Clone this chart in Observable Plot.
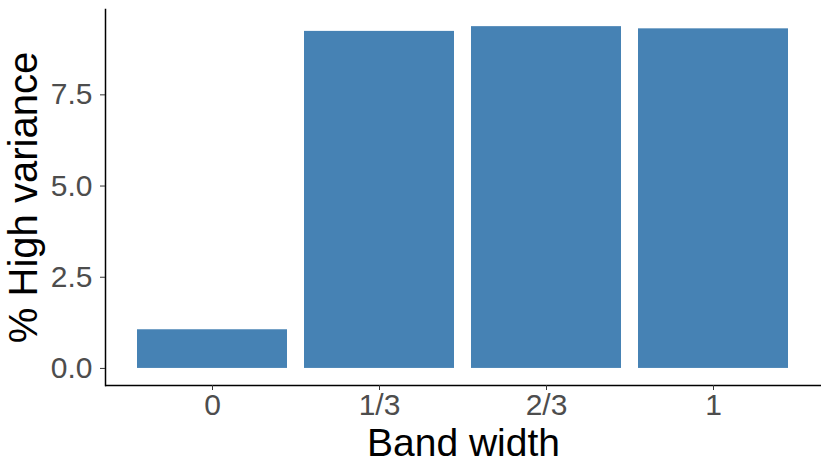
<!DOCTYPE html>
<html>
<head>
<meta charset="utf-8">
<script src="https://cdn.jsdelivr.net/npm/d3@7"></script>
<script src="https://cdn.jsdelivr.net/npm/@observablehq/plot@0.6"></script>
<style>
  html, body { margin: 0; padding: 0; background: #fff; }
  #chart svg { display: block; }
</style>
</head>
<body>
<div id="chart"></div>
<script>
const categories = ["0", "1/3", "2/3", "1"];
const values = [1.06, 9.24, 9.37, 9.31];
const yTicks = [0, 2.5, 5, 7.5];
const xTitle = "Band width";
const yTitle = "% High variance";

const data = categories.map((c, i) => ({ band: c, pct: values[i] }));
const yMin = -0.468, yMax = 9.84;

const chart = Plot.plot({
  width: 830,
  height: 475,
  marginLeft: 105,
  marginRight: 9,
  marginTop: 9,
  marginBottom: 90,
  style: { fontFamily: "'Liberation Sans', Arial, sans-serif", background: "#fff" },
  x: { domain: categories, paddingInner: 0.1, paddingOuter: 0.19, label: null },
  y: { domain: [yMin, yMax], label: null },
  marks: [
    Plot.barY(data, { x: "band", y1: 0, y2: "pct", fill: "#4682B4" }),
    Plot.ruleY([yMin], { stroke: "#000", strokeWidth: 1.5 }),
    Plot.frame({ anchor: "left", stroke: "#000", strokeWidth: 1.5 }),
    Plot.axisY({
      ticks: yTicks, tickFormat: d3.format(".1f"), tickSize: 5, tickPadding: 8,
      fontSize: 30, color: "#4D4D4D", stroke: "#333", label: null
    }),
    Plot.axisX({
      tickSize: 5, tickPadding: 3, fontSize: 30, color: "#4D4D4D", stroke: "#333", label: null
    }),
    Plot.text([xTitle], { frameAnchor: "bottom", dy: 70, fontSize: 39, fill: "#000", lineAnchor: "bottom" }),
    Plot.text([yTitle], { frameAnchor: "left", dx: -69, rotate: -90, fontSize: 40, fill: "#000", lineAnchor: "bottom", textAnchor: "middle" })
  ]
});
document.getElementById("chart").appendChild(chart);
</script>
</body>
</html>
